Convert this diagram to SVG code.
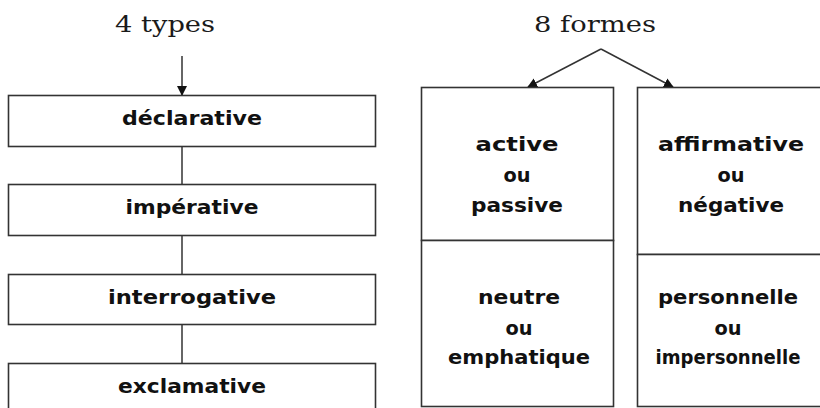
<svg xmlns="http://www.w3.org/2000/svg" width="820" height="408" viewBox="0 0 820 408">
  <style>
    .box { fill: #ffffff; stroke: #333333; stroke-width: 1.6; }
    .link { fill: none; stroke: #333333; stroke-width: 1.5; }
    .title { font-family: "DejaVu Serif", "Liberation Serif", serif; font-size: 22px; fill: #1a1a1a; text-anchor: middle; }
    .lbl { font-family: "Comic Sans MS", "DejaVu Sans", sans-serif; font-weight: bold; font-size: 19px; fill: #111111; text-anchor: middle; }
  </style>
  <defs>
    <marker id="arrow" markerWidth="10" markerHeight="10" refX="9" refY="5" orient="auto" markerUnits="userSpaceOnUse">
      <path d="M0,0 L10,5 L0,10 Z" fill="#111111"/>
    </marker>
  </defs>
  <rect width="820" height="408" fill="#ffffff"/>

  <g id="title-types">
    <text class="title" x="165" y="32" textLength="100" lengthAdjust="spacingAndGlyphs">4 types</text>
  </g>
  <g id="title-formes">
    <text class="title" x="595" y="32" textLength="122" lengthAdjust="spacingAndGlyphs">8 formes</text>
  </g>

  <g id="connectors">
    <line class="link" x1="182" y1="56" x2="182" y2="95" marker-end="url(#arrow)"/>
    <line class="link" x1="182" y1="146" x2="182" y2="184"/>
    <line class="link" x1="182" y1="235" x2="182" y2="274"/>
    <line class="link" x1="182" y1="324" x2="182" y2="363"/>
    <line class="link" x1="601" y1="49" x2="528" y2="87" marker-end="url(#arrow)"/>
    <line class="link" x1="601" y1="49" x2="673" y2="87" marker-end="url(#arrow)"/>
  </g>

  <g id="declarative">
    <rect class="box" x="8.5" y="95.5" width="367" height="51"/>
    <text class="lbl" x="192" y="125" textLength="140" lengthAdjust="spacingAndGlyphs">déclarative</text>
  </g>
  <g id="imperative">
    <rect class="box" x="8.5" y="184.5" width="367" height="51"/>
    <text class="lbl" x="192" y="214" textLength="133" lengthAdjust="spacingAndGlyphs">impérative</text>
  </g>
  <g id="interrogative">
    <rect class="box" x="8.5" y="274.5" width="367" height="50"/>
    <text class="lbl" x="192" y="304" textLength="168" lengthAdjust="spacingAndGlyphs">interrogative</text>
  </g>
  <g id="exclamative">
    <rect class="box" x="8.5" y="363.5" width="367" height="60"/>
    <text class="lbl" x="192" y="393" textLength="148" lengthAdjust="spacingAndGlyphs">exclamative</text>
  </g>

  <g id="voix">
    <rect class="box" x="421.5" y="87.5" width="192" height="153"/>
    <text class="lbl" x="517" y="151" textLength="83" lengthAdjust="spacingAndGlyphs">active</text>
    <text class="lbl" x="517" y="182" textLength="27" lengthAdjust="spacingAndGlyphs">ou</text>
    <text class="lbl" x="517" y="212" textLength="92" lengthAdjust="spacingAndGlyphs">passive</text>
  </g>
  <g id="emphase">
    <rect class="box" x="421.5" y="240.5" width="192" height="166"/>
    <text class="lbl" x="519" y="304" textLength="82" lengthAdjust="spacingAndGlyphs">neutre</text>
    <text class="lbl" x="519" y="335" textLength="27" lengthAdjust="spacingAndGlyphs">ou</text>
    <text class="lbl" x="519" y="364" textLength="142" lengthAdjust="spacingAndGlyphs">emphatique</text>
  </g>
  <g id="polarite">
    <rect class="box" x="637.5" y="87.5" width="190" height="167"/>
    <text class="lbl" x="731" y="151" textLength="146" lengthAdjust="spacingAndGlyphs">affirmative</text>
    <text class="lbl" x="731" y="182" textLength="27" lengthAdjust="spacingAndGlyphs">ou</text>
    <text class="lbl" x="731" y="212" textLength="106" lengthAdjust="spacingAndGlyphs">négative</text>
  </g>
  <g id="personne">
    <rect class="box" x="637.5" y="254.5" width="190" height="152"/>
    <text class="lbl" x="728" y="304" textLength="140" lengthAdjust="spacingAndGlyphs">personnelle</text>
    <text class="lbl" x="728" y="335" textLength="27" lengthAdjust="spacingAndGlyphs">ou</text>
    <text class="lbl" x="728" y="364" textLength="145" lengthAdjust="spacingAndGlyphs">impersonnelle</text>
  </g>
</svg>
